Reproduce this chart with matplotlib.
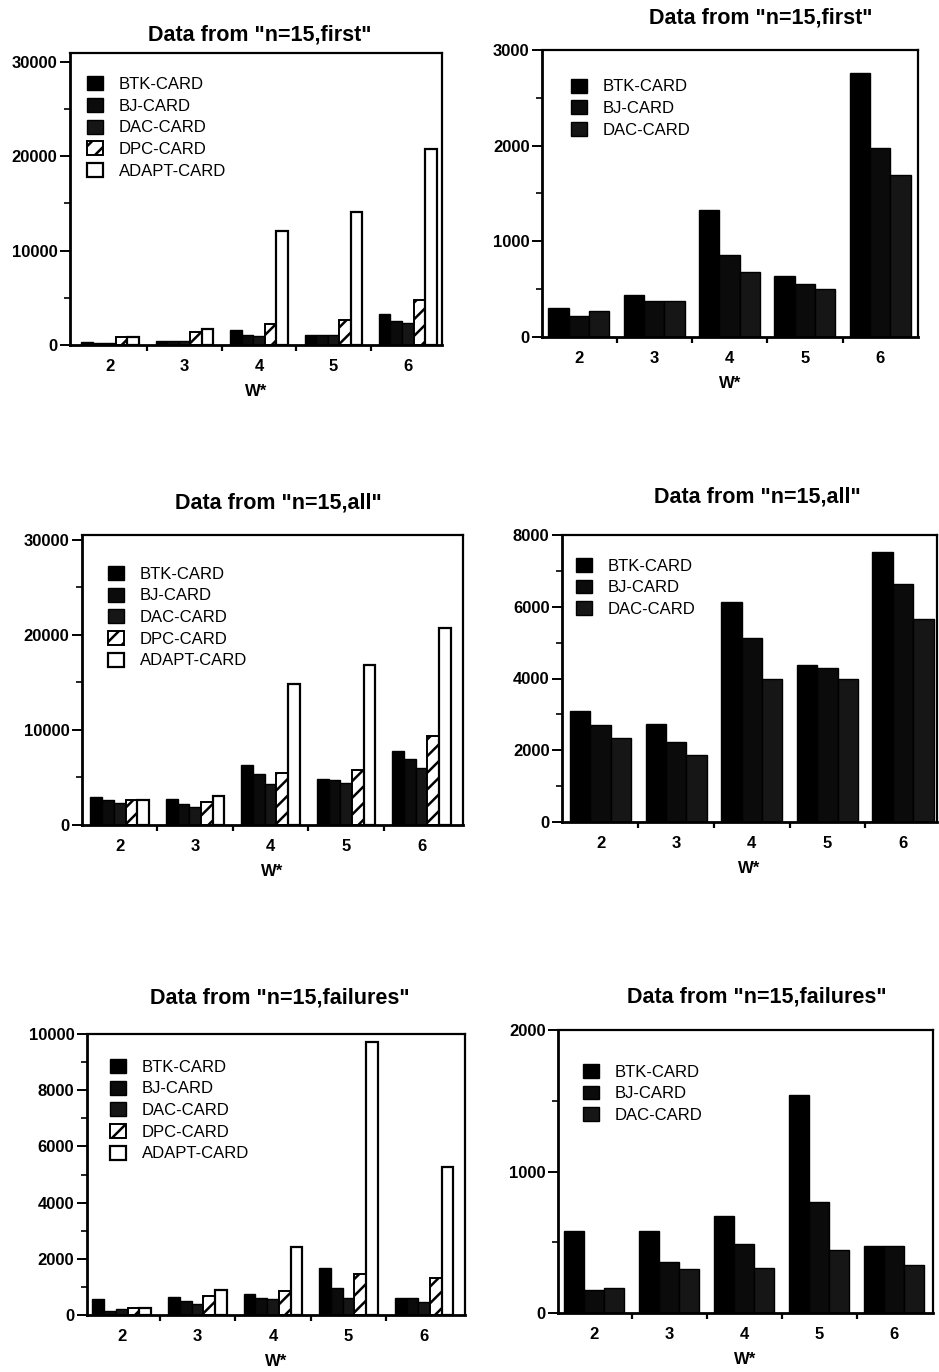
import matplotlib
matplotlib.use('Agg')
import matplotlib.pyplot as plt
import numpy as np
from matplotlib.ticker import MultipleLocator, FixedLocator

plt.rcParams['font.family'] = ['Liberation Sans', 'DejaVu Sans']
plt.rcParams['hatch.linewidth'] = 1.8

# W* values (x groups)
w_star = [2, 3, 4, 5, 6]
names = ['BTK-CARD', 'BJ-CARD', 'DAC-CARD', 'DPC-CARD', 'ADAPT-CARD']

# Data from "n=15,first"
first_btk = [320, 450, 1600, 1060, 3280]
first_bj = [170, 450, 1100, 1060, 2540]
first_dac = [170, 450, 1000, 1100, 2360]
first_dpc = [810, 1400, 2250, 2650, 4760]
first_adapt = [810, 1690, 12080, 14080, 20770]

# zoomed version (first three methods only)
first_btk_z = [307, 443, 1329, 642, 2762]
first_bj_z = [223, 373, 861, 551, 1971]
first_dac_z = [276, 373, 684, 499, 1692]

# Data from "n=15,all"
all_btk = [2950, 2750, 6300, 4800, 7800]
all_bj = [2600, 2220, 5400, 4700, 6900]
all_dac = [2350, 1880, 4300, 4400, 6000]
all_dpc = [2650, 2380, 5450, 5800, 9400]
all_adapt = [2650, 3000, 14860, 16850, 20700]

all_btk_z = [3088, 2725, 6140, 4372, 7516]
all_bj_z = [2716, 2233, 5116, 4279, 6633]
all_dac_z = [2344, 1879, 3981, 3981, 5647]

# Data from "n=15,failures"
fail_btk = [580, 630, 740, 1660, 605]
fail_bj = [150, 510, 620, 950, 605]
fail_dac = [200, 390, 580, 590, 475]
fail_dpc = [250, 680, 870, 1450, 1300]
fail_adapt = [250, 880, 2430, 9730, 5250]

fail_btk_z = [576, 581, 682, 1541, 471]
fail_bj_z = [160, 360, 487, 781, 471]
fail_dac_z = [176, 311, 318, 447, 336]

styles = [
    dict(facecolor='black', edgecolor='black', linewidth=1),
    dict(facecolor='#0b0b0b', edgecolor='black', linewidth=1),
    dict(facecolor='#161616', edgecolor='black', linewidth=1),
    dict(facecolor='white', edgecolor='black', hatch='//', linewidth=1.4),
    dict(facecolor='white', edgecolor='black', linewidth=1.6),
]

fig = plt.figure(figsize=(9.39, 13.72), dpi=100)


def box(l, t, r, b):
    return [l / 939, 1 - b / 1372, (r - l) / 939, (b - t) / 1372]


def draw(pos, series, bar_w, xlim, ylim, major, minor, leg_xy, title, title_xy):
    ax = fig.add_axes(box(*pos))
    n = len(series)
    x = np.array(w_star, dtype=float)
    for i, vals in enumerate(series):
        off = (i - (n - 1) / 2) * bar_w
        ax.bar(x + off, vals, bar_w, label=names[i], **styles[i])
    ax.set_xlim(*xlim)
    ax.set_ylim(*ylim)

    ax.xaxis.set_major_locator(FixedLocator(w_star))
    ax.xaxis.set_minor_locator(FixedLocator([2.5, 3.5, 4.5, 5.5]))
    ax.tick_params(axis='x', which='major', length=0, pad=10, labelsize=12)
    ax.tick_params(axis='x', which='minor', length=4, width=1.6, direction='out')
    ax.yaxis.set_major_locator(MultipleLocator(major))
    ax.yaxis.set_minor_locator(MultipleLocator(minor))
    ax.tick_params(axis='y', which='major', length=7, width=1.4, direction='out', pad=2, labelsize=12)
    ax.tick_params(axis='y', which='minor', length=4, width=1.2, direction='out')
    for lab in ax.get_xticklabels() + ax.get_yticklabels():
        lab.set_fontweight('bold')
    for s in ax.spines.values():
        s.set_linewidth(1.6)
    ax.spines['left'].set_linewidth(2)
    ax.spines['bottom'].set_linewidth(2)

    ax.set_xlabel('W*', fontsize=12, fontweight='bold', labelpad=7)
    ax.legend(loc='upper left', bbox_to_anchor=leg_xy, frameon=False,
              borderpad=0, borderaxespad=0, handlelength=0.95, handleheight=0.9,
              handletextpad=0.95, labelspacing=0.36, prop={'size': 12})
    fig.text(title_xy[0] / 939, 1 - title_xy[1] / 1372, title, ha='center', va='center',
             fontsize=15.5, fontweight='bold')
    return ax


draw((70, 53, 442, 345), [first_btk, first_bj, first_dac, first_dpc, first_adapt], 0.155,
     (1.46, 6.46), (0, 30900), 10000, 5000, (0.046, 0.92),
     'Data from "n=15,first"', (260, 35))
draw((542, 50, 918, 337), [first_btk_z, first_bj_z, first_dac_z], 0.27,
     (1.51, 6.5), (0, 3000), 1000, 500, (0.077, 0.90),
     'Data from "n=15,first"', (761, 18))

draw((82, 535, 463, 825), [all_btk, all_bj, all_dac, all_dpc, all_adapt], 0.155,
     (1.5, 6.55), (0, 30500), 10000, 5000, (0.068, 0.893),
     'Data from "n=15,all"', (278, 503))
draw((562, 535, 937, 822), [all_btk_z, all_bj_z, all_dac_z], 0.27,
     (1.49, 6.45), (0, 8000), 2000, 1000, (0.037, 0.92),
     'Data from "n=15,all"', (757, 497))

draw((87, 1034, 465, 1315), [fail_btk, fail_bj, fail_dac, fail_dpc, fail_adapt], 0.155,
     (1.54, 6.54), (0, 10000), 2000, 1000, (0.061, 0.911),
     'Data from "n=15,failures"', (280, 998))
draw((558, 1030, 933, 1313), [fail_btk_z, fail_bj_z, fail_dac_z], 0.27,
     (1.52, 6.52), (0, 2000), 1000, 500, (0.067, 0.88),
     'Data from "n=15,failures"', (757, 997))

fig.savefig('out.png', dpi=100)
